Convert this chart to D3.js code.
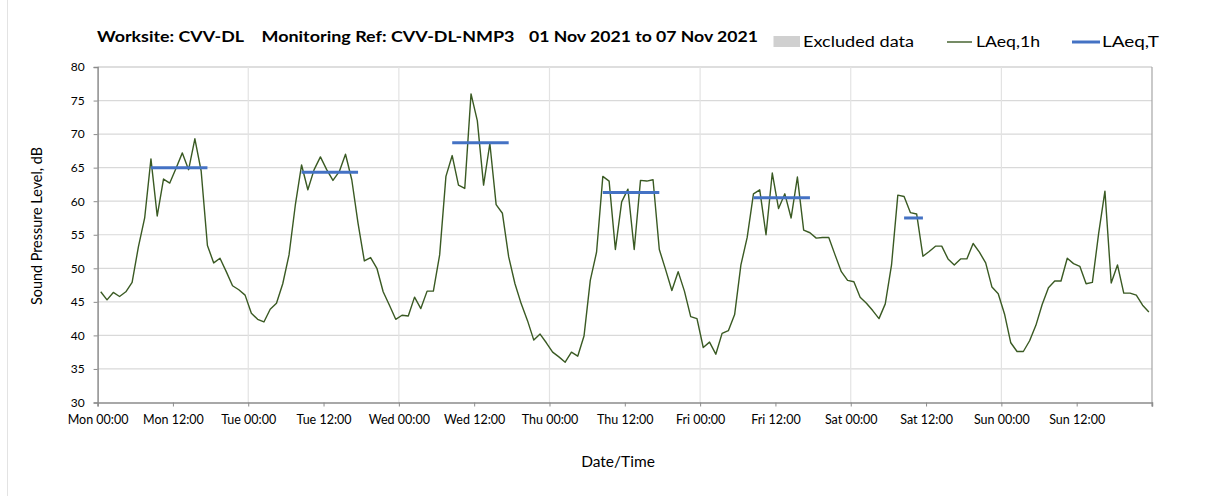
<!DOCTYPE html>
<html>
<head>
<meta charset="utf-8">
<script src="https://cdnjs.cloudflare.com/ajax/libs/d3/7.8.5/d3.min.js"></script>
<style>
  html, body { margin: 0; padding: 0; background: #ffffff; }
  svg { display: block; }
  text { font-family: Lato, "Open Sans", sans-serif; fill: #000; }
</style>
</head>
<body>
<svg id="chart" width="1205" height="496"></svg>
<script>
// ---- Data ----
const titleParts = ["Worksite: CVV-DL", "Monitoring Ref: CVV-DL-NMP3", "01 Nov 2021 to 07 Nov 2021"];
const yTicks = [30, 35, 40, 45, 50, 55, 60, 65, 70, 75, 80];
const xTickLabels = ["Mon 00:00","Mon 12:00","Tue 00:00","Tue 12:00","Wed 00:00","Wed 12:00","Thu 00:00",
                     "Thu 12:00","Fri 00:00","Fri 12:00","Sat 00:00","Sat 12:00","Sun 00:00","Sun 12:00"];
const legendLabels = ["Excluded data", "LAeq,1h", "LAeq,T"];

// hourly LAeq,1h values, hour index 0..167 (Mon 00:00 .. Sun 23:00)
const laeq1h = [
  46.5, 45.3, 46.4, 45.8, 46.5, 47.9, 53.2, 57.5, 66.3, 57.8, 63.3, 62.7,
  64.9, 67.2, 64.7, 69.3, 64.5, 53.4, 50.8, 51.5, 49.5, 47.4, 46.8, 46.0,
  43.3, 42.4, 42.0, 43.9, 44.8, 47.7, 52.0, 59.4, 65.4, 61.7, 64.7, 66.6,
  64.7, 63.1, 64.4, 67.0, 63.2, 56.7, 51.1, 51.6, 50.0, 46.5, 44.5, 42.4,
  43.0, 42.9, 45.7, 44.0, 46.6, 46.6, 52.0, 63.7, 66.8, 62.4, 61.9, 76.0,
  72.0, 62.4, 68.6, 59.5, 58.2, 51.7, 47.7, 44.7, 42.2, 39.3, 40.2, 38.9,
  37.5, 36.8, 36.0, 37.5, 36.9, 39.9, 48.2, 52.4, 63.7, 63.0, 52.8, 59.9,
  61.8, 52.8, 63.1, 63.0, 63.2, 52.8, 49.8, 46.7, 49.5, 46.6, 42.8, 42.5,
  38.2, 39.0, 37.2, 40.3, 40.7, 43.1, 50.5, 54.6, 61.1, 61.7, 55.0, 64.2,
  58.9, 61.1, 57.5, 63.6, 55.7, 55.3, 54.5, 54.6, 54.6, 52.0, 49.5, 48.2,
  48.0, 45.7, 44.8, 43.7, 42.5, 44.7, 50.5, 60.9, 60.7, 58.3, 58.1, 51.8,
  52.5, 53.3, 53.3, 51.4, 50.5, 51.4, 51.4, 53.7, 52.4, 50.8, 47.2, 46.2,
  43.2, 38.9, 37.6, 37.6, 39.2, 41.5, 44.6, 47.1, 48.1, 48.1, 51.5, 50.7,
  50.3, 47.7, 47.9, 55.2, 61.5, 47.8, 50.5, 46.3, 46.3, 46.0, 44.5, 43.5
];

// LAeq,T periods: first hour index, last hour index, level
const periodStart = [8, 32, 56, 80, 104, 128];
const periodEnd   = [17, 41, 65, 89, 113, 131];
const periodLevel = [65.0, 64.3, 68.7, 61.3, 60.5, 57.5];

// ---- Layout ----
const svg = d3.select("#chart");
const L = 97.6, R = 1152, T = 67, B = 402.5;
const x = d3.scaleLinear().domain([0, 168]).range([L, R]);
const y = d3.scaleLinear().domain([30, 80]).range([B, T]);

// faint outer frame line on left
svg.append("line").attr("x1", 7.5).attr("x2", 7.5).attr("y1", 0).attr("y2", 496)
  .attr("stroke", "#e3e3e3").attr("stroke-width", 1);

// horizontal gridlines
svg.append("g").selectAll("line").data(yTicks.filter(v => v > 30)).join("line")
  .attr("x1", L).attr("x2", R)
  .attr("y1", d => y(d)).attr("y2", d => y(d))
  .attr("stroke", d => d === 80 ? "#bdbdbd" : "#d9d9d9").attr("stroke-width", 1.2);

// vertical gridlines at each day
const dayHours = d3.range(24, 168, 24);
svg.append("g").selectAll("line").data(dayHours).join("line")
  .attr("x1", d => x(d)).attr("x2", d => x(d))
  .attr("y1", T).attr("y2", B)
  .attr("stroke", "#e3e3e3").attr("stroke-width", 1.2);

// right border
svg.append("line").attr("x1", x(168)).attr("x2", x(168)).attr("y1", T).attr("y2", B + 4)
  .attr("stroke", "#a6a6a6").attr("stroke-width", 1.2);

// y axis
const yAxis = d3.axisLeft(y).tickValues(yTicks).tickSize(4).tickPadding(9).tickFormat(d3.format("d"));
const gy = svg.append("g").attr("transform", `translate(${L},0)`).call(yAxis);
gy.select(".domain").attr("stroke", "#8c8c8c").attr("stroke-width", 1.5);
gy.selectAll(".tick line").attr("stroke", "#8c8c8c");
gy.selectAll(".tick text").style("font-family", "Lato, sans-serif").style("font-size", "12px").attr("fill", "#222");

// x axis
const xTickVals = d3.range(0, 169, 12);
const xAxis = d3.axisBottom(x).tickValues(xTickVals).tickSize(4).tickPadding(9)
  .tickFormat((d, i) => xTickLabels[i] || "");
const gx = svg.append("g").attr("transform", `translate(0,${B})`).call(xAxis);
gx.select(".domain").attr("stroke", "#8c8c8c").attr("stroke-width", 1.5);
gx.selectAll(".tick line").attr("stroke", "#8c8c8c");
gx.selectAll(".tick text").style("font-family", "Lato, sans-serif").style("font-size", "12.5px").attr("fill", "#222");

// LAeq,1h line
const line = d3.line().x((d, i) => x(i + 0.5)).y(d => y(d));
svg.append("path").datum(laeq1h).attr("d", line)
  .attr("fill", "none").attr("stroke", "#3a5a23").attr("stroke-width", 1.4).attr("stroke-linejoin", "round");

// LAeq,T lines
const periods = periodStart.map((s, i) => ({ s, e: periodEnd[i], v: periodLevel[i] }));
svg.append("g").selectAll("line").data(periods).join("line")
  .attr("x1", d => x(d.s + 0.5)).attr("x2", d => x(d.e + 0.5))
  .attr("y1", d => y(d.v)).attr("y2", d => y(d.v))
  .attr("stroke", "#4472c4").attr("stroke-width", 3);

// title
const titleX = [97, 261.5, 529];
const titleW = [147, 253, 229];
svg.append("g").selectAll("text").data(titleParts).join("text")
  .attr("x", (d, i) => titleX[i]).attr("y", 42)
  .attr("textLength", (d, i) => titleW[i]).attr("lengthAdjust", "spacingAndGlyphs")
  .style("font-size", "14.5px").style("font-weight", "bold")
  .text(d => d);

// legend
svg.append("rect").attr("x", 773.5).attr("y", 36).attr("width", 26.5).attr("height", 11).attr("fill", "#d0d0d0");
svg.append("line").attr("x1", 947).attr("x2", 972).attr("y1", 42).attr("y2", 42)
  .attr("stroke", "#3a5a23").attr("stroke-width", 1.4);
svg.append("line").attr("x1", 1072).attr("x2", 1100).attr("y1", 42).attr("y2", 42)
  .attr("stroke", "#4472c4").attr("stroke-width", 3);
const legX = [803, 976, 1102];
const legW = [111, 64, 57];
svg.append("g").selectAll("text").data(legendLabels).join("text")
  .attr("x", (d, i) => legX[i]).attr("y", 47)
  .attr("textLength", (d, i) => legW[i]).attr("lengthAdjust", "spacingAndGlyphs")
  .style("font-size", "15.5px")
  .text(d => d);

// axis titles
svg.append("text").attr("transform", "translate(42,226) rotate(-90)")
  .attr("text-anchor", "middle").attr("textLength", 158).attr("lengthAdjust", "spacingAndGlyphs")
  .style("font-size", "15.5px").text("Sound Pressure Level, dB");
svg.append("text").attr("x", 618).attr("y", 467).attr("text-anchor", "middle")
  .style("font-size", "15.5px").text("Date/Time");
</script>
</body>
</html>
